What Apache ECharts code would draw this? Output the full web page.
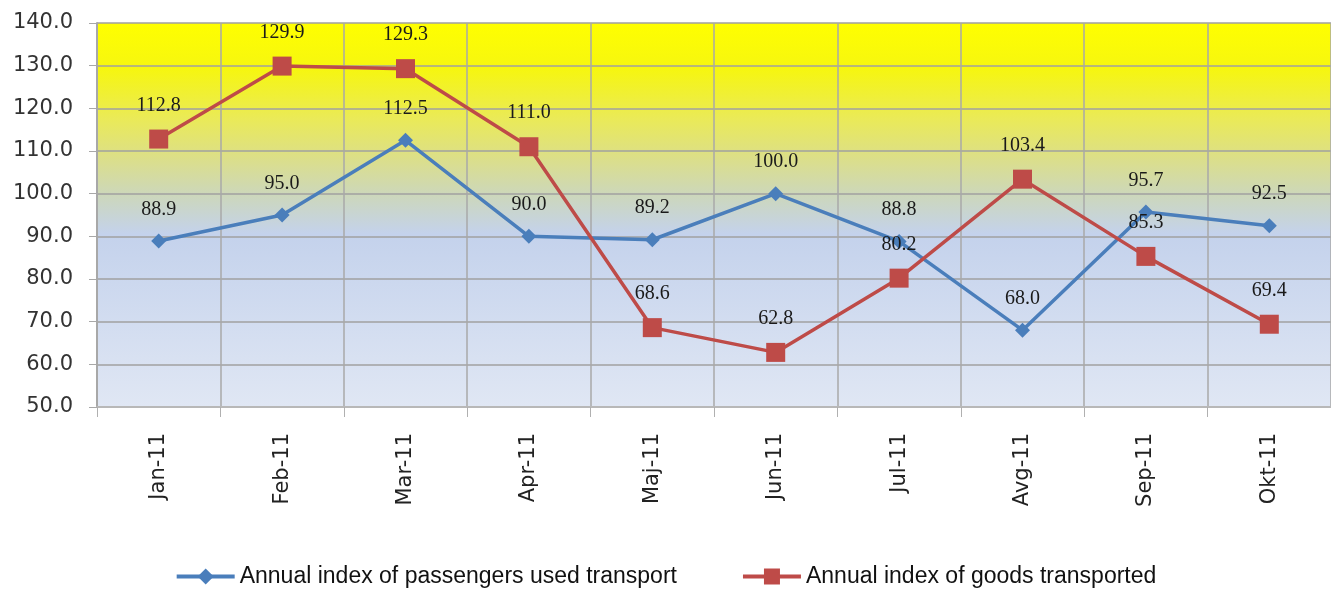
<!DOCTYPE html>
<html>
<head>
<meta charset="utf-8">
<script src="https://cdn.jsdelivr.net/npm/echarts@6/dist/echarts.min.js"></script>
<style>
  html, body { margin: 0; padding: 0; background: #fff; }
  #chart { width: 1331px; height: 593px; }
</style>
</head>
<body>
<div id="chart"></div>
<script>
  const months = ['Jan-11', 'Feb-11', 'Mar-11', 'Apr-11', 'Maj-11', 'Jun-11', 'Jul-11', 'Avg-11', 'Sep-11', 'Okt-11']
  const passengers = [88.9, 95.0, 112.5, 90.0, 89.2, 100.0, 88.8, 68.0, 95.7, 92.5]
  const goods = [112.8, 129.9, 129.3, 111.0, 68.6, 62.8, 80.2, 103.4, 85.3, 69.4]

  let chart = echarts.init(document.getElementById('chart'))

  let labelStyle = {
    show: true,
    position: 'top',
    distance: 14,
    fontFamily: 'Liberation Serif',
    fontSize: 20,
    color: '#1a1a1a',
    formatter: p => p.value.toFixed(1),
  }

  chart.setOption({
    animation: false,
    grid: {
      left: 97,
      right: -12,
      top: 23,
      bottom: 186,
      show: true,
      borderWidth: 0,
      backgroundColor: new echarts.graphic.LinearGradient(0, 0, 0, 1, [
        { offset: 0, color: '#ffff00' },
        { offset: 0.12, color: '#f6f610' },
        { offset: 0.25, color: '#eaea58' },
        { offset: 0.35, color: '#dcdf88' },
        { offset: 0.45, color: '#ccd7bc' },
        { offset: 0.55, color: '#c4d2ec' },
        { offset: 1, color: '#e0e7f4' },
      ]),
    },
    legend: {
      bottom: 0,
      left: 'center',
      itemGap: 64,
      itemWidth: 58,
      itemHeight: 20,
      lineStyle: { width: 4 },
      textStyle: {
        fontFamily: 'Liberation Sans',
        fontSize: 23,
        color: '#111',
      },
      data: [
        'Annual index of passengers used transport',
        'Annual index of goods transported',
      ],
    },
    xAxis: {
      type: 'category',
      data: months,
      boundaryGap: true,
      axisLine: { lineStyle: { color: '#b8b8b8', width: 2 } },
      axisTick: { show: true, length: 10, interval: 0, lineStyle: { color: '#b0b0b0' } },
      splitLine: { show: true, interval: 0, lineStyle: { color: '#a8a8a8', width: 1.5 } },
      axisLabel: {
        rotate: 90,
        margin: 26,
        interval: 0,
        fontFamily: 'DejaVu Sans',
        fontSize: 21,
        color: '#222',
      },
    },
    yAxis: {
      type: 'value',
      min: 50,
      max: 140,
      interval: 10,
      axisLine: { show: true, lineStyle: { color: '#a8a8a8', width: 2 } },
      axisTick: { show: true, length: 8, lineStyle: { color: '#a8a8a8' } },
      splitLine: { lineStyle: { color: '#a0a0a0', width: 1.5 } },
      axisLabel: {
        margin: 24,
        fontFamily: 'DejaVu Sans',
        fontSize: 21,
        color: '#333',
        formatter: v => v.toFixed(1),
      },
    },
    series: [
      {
        name: 'Annual index of passengers used transport',
        type: 'line',
        data: passengers,
        symbol: 'diamond',
        symbolSize: 15,
        lineStyle: { color: '#4a7ebb', width: 3.5 },
        itemStyle: { color: '#4a7ebb' },
        label: labelStyle,
      },
      {
        name: 'Annual index of goods transported',
        type: 'line',
        data: goods,
        symbol: 'rect',
        symbolSize: 19,
        lineStyle: { color: '#be4b48', width: 3.5 },
        itemStyle: { color: '#be4b48' },
        label: labelStyle,
      },
    ],
  })
</script>
</body>
</html>
